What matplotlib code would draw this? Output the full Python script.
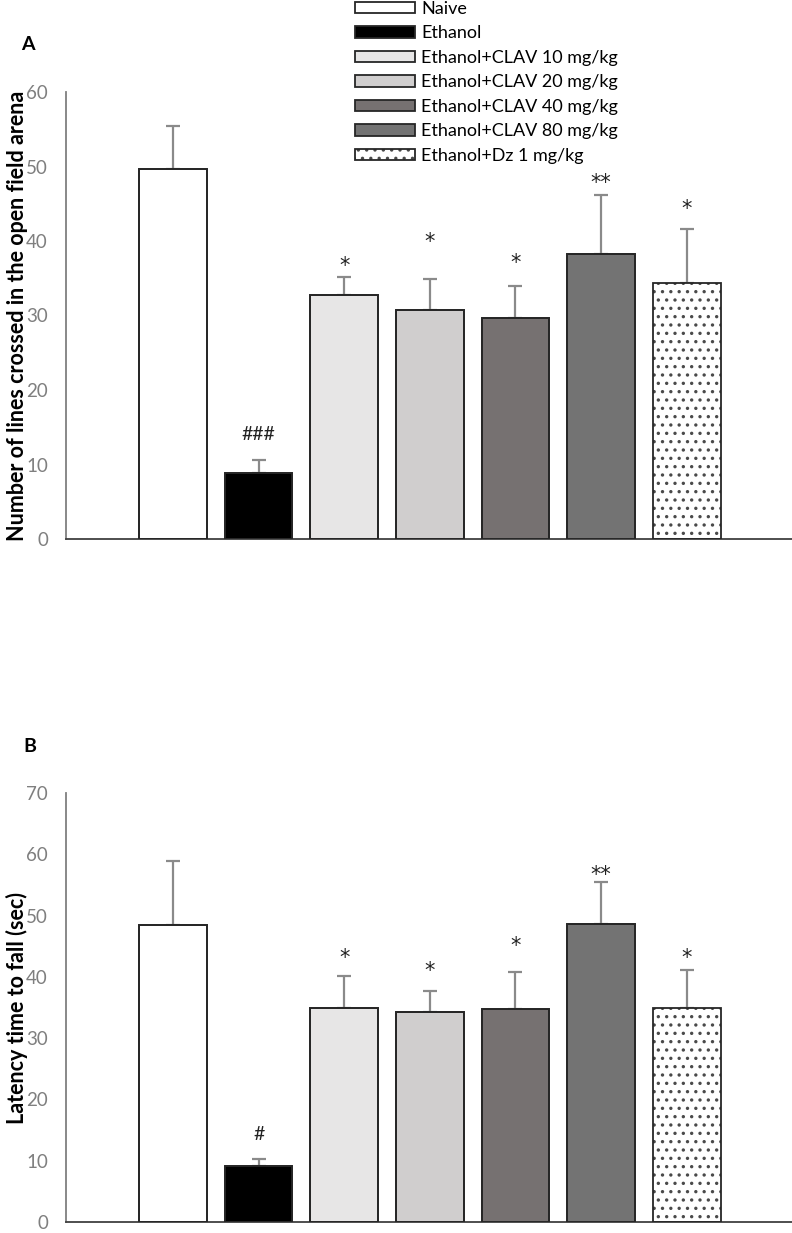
import numpy as np
import matplotlib
matplotlib.use("Agg")
import matplotlib.pyplot as plt

plt.rcParams['font.family'] = ['Lato', 'DejaVu Sans']
plt.rcParams['hatch.linewidth'] = 1.2

# groups (legend order == bar order)
groups = ["Naive", "Ethanol", "Ethanol+CLAV 10 mg/kg", "Ethanol+CLAV 20 mg/kg",
          "Ethanol+CLAV 40 mg/kg", "Ethanol+CLAV 80 mg/kg", "Ethanol+Dz 1 mg/kg"]
colors = ["#ffffff", "#000000", "#e7e6e6", "#d0cece", "#767171", "#737373", "#ffffff"]
hatches = [None, None, None, None, None, None, ".."]

# panel A: open field, lines crossed
linesMean = [49.6, 8.8, 32.7, 30.7, 29.6, 38.3, 34.4]
linesErr = [5.8, 1.8, 2.5, 4.2, 4.4, 7.9, 7.2]
linesMarks = ["", "###", "*", "*", "*", "**", "*"]
linesMarkY = [0, 14.0, 37.6, 40.8, 38.0, 48.7, 45.2]

# panel B: rotarod, latency to fall
latMean = [48.4, 9.2, 35.0, 34.2, 34.7, 48.7, 34.9]
latErr = [10.5, 1.0, 5.2, 3.5, 6.1, 6.8, 6.2]
latMarks = ["", "#", "*", "*", "*", "**", "*"]
latMarkY = [0, 14.2, 44.0, 41.9, 46.0, 57.6, 43.9]

W, H = 792, 1233
fig = plt.figure(figsize=(W/100., H/100.), dpi=100)

def draw_panel(rect, means, errs, marks, markY, ymax, ylabel):
	ax = fig.add_axes(rect)
	x = np.arange(len(means))
	bars = ax.bar(x, means, width=0.79, color=colors, edgecolor="#262626", linewidth=1.3, zorder=2)
	for b, h in zip(bars, hatches):
		if h:
			# hatch takes the edge colour, so redraw the outline on top
			b.set_hatch(h)
			b.set_edgecolor("#4a4a4a")
			b.set_linewidth(0)
	outline = ax.bar(x, means, width=0.79, fill=False, edgecolor="#262626", linewidth=1.3, zorder=3)
	ax.errorbar(x, means, yerr=[np.zeros(len(means)), errs], fmt="none", ecolor="#8a8a8a",
		elinewidth=1.6, capsize=5, capthick=1.6, zorder=1)
	for xi, m, y in zip(x, marks, markY):
		if m.startswith("#"):
			ax.text(xi, y, m, ha="center", va="center", fontsize=14, color="#222222")
		elif m:
			ax.text(xi, y - 0.9, m, ha="center", va="center", fontsize=15, color="#222222",
				family="DejaVu Sans")
	ax.set_xlim(-1.25, 7.23)
	ax.set_ylim(0, ymax)
	ax.set_yticks(np.arange(0, ymax + 1, 10))
	ax.set_xticks([])
	ax.tick_params(axis="y", length=0, pad=13, labelsize=13.5, labelcolor="#7f7f7f")
	for s in ["top", "right"]:
		ax.spines[s].set_visible(False)
	ax.spines["left"].set_color("#7f7f7f")
	ax.spines["left"].set_linewidth(1.3)
	ax.spines["bottom"].set_color("#404040")
	ax.spines["bottom"].set_linewidth(1.3)
	ax.set_ylabel(ylabel, fontsize=15.5, fontweight="bold")
	return ax, bars, outline

left = 66./W
width = 726./W
axA, barsA, outA = draw_panel([left, 1-539./H, width, (539.-92.)/H], linesMean, linesErr,
	linesMarks, linesMarkY, 60, "Number of lines crossed in the open field arena")
axB, barsB, outB = draw_panel([left, 1-1222./H, width, (1222.-793.)/H], latMean, latErr,
	latMarks, latMarkY, 70, "Latency time to fall (sec)")
axA.yaxis.set_label_coords(-38./726, 0.5)
axB.yaxis.set_label_coords(-38./726, 0.5)

fig.text(28./W, 1-45./H, "A", fontsize=14, fontweight="bold", ha="center", va="center")
fig.text(30./W, 1-746./H, "B", fontsize=14, fontweight="bold", ha="center", va="center")

handles = [(b, o) if h else b for b, o, h in zip(barsA, outA, hatches)]
fig.legend(handles, groups, loc="upper left", bbox_to_anchor=(355./W, 1-1./H), frameon=False,
	fontsize=13, handlelength=3.3, handleheight=0.6, handletextpad=0.35, labelspacing=0.47,
	borderpad=0, borderaxespad=0)

fig.savefig("out.png", dpi=100)
